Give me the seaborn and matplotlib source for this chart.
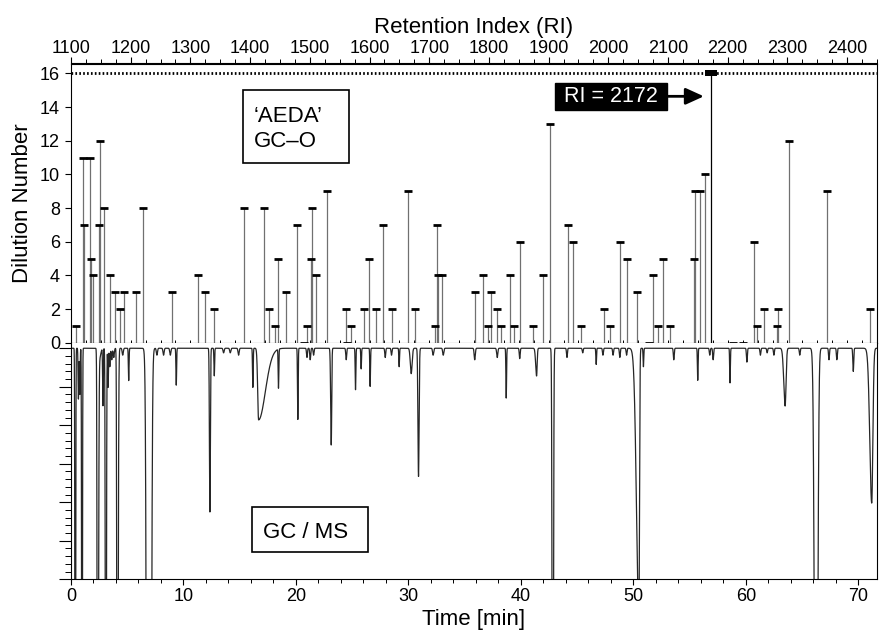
import numpy as np
import pandas as pd
import matplotlib
matplotlib.use("Agg")
import matplotlib.pyplot as plt
import seaborn as sns
from matplotlib.ticker import MultipleLocator, NullFormatter
from matplotlib.patches import Rectangle

# ---------------- GC-O (AEDA) data: retention index and dilution number ----------------
ri = [1108, 1120, 1122, 1131, 1134, 1137, 1147, 1149, 1155, 1165, 1174, 1182, 1189,
      1209, 1221, 1269, 1312, 1325, 1340, 1389, 1423, 1431, 1441, 1446, 1460, 1479,
      1491, 1495, 1502, 1504, 1510, 1529, 1561, 1563, 1569, 1591, 1599, 1611, 1622,
      1638, 1665, 1676, 1710, 1713, 1715, 1721, 1777, 1790, 1798, 1804, 1813, 1820,
      1835, 1842, 1852, 1874, 1891, 1902, 1933, 1941, 1954, 1993, 2002, 2019, 2031,
      2048, 2068, 2075, 2083, 2092, 2103, 2143, 2145, 2153, 2162, 2172, 2209, 2225,
      2244, 2249, 2261, 2283, 2285, 2303, 2367, 2439]
dilution = [1, 11, 7, 11, 5, 4, 7, 12, 8, 4, 3, 2, 3,
            3, 8, 3, 4, 3, 2, 8, 8, 2, 1, 5, 3, 7,
            0, 1, 5, 8, 4, 9, 2, 0, 1, 2, 5, 2, 7,
            2, 9, 2, 1, 7, 4, 4, 3, 4, 1, 3, 2, 1,
            4, 1, 6, 1, 4, 13, 7, 6, 1, 2, 1, 6, 5,
            3, 0, 4, 1, 5, 1, 5, 9, 9, 10, 16, 0, 0,
            6, 1, 2, 1, 2, 12, 9, 2]
highlight_ri = 2172

# ---------------- GC/MS chromatogram peaks (time, relative depth, left/right width) ----------------
peak_time = [0.38, 0.66, 0.78, 0.98, 2.37, 2.55, 2.84, 3.10, 3.30, 3.45, 3.62, 3.80,
             4.12, 4.60, 5.13, 6.93, 7.64, 8.23, 8.83, 9.36, 12.35, 12.74, 13.57,
             14.16, 14.90, 16.17, 16.68, 18.45, 20.17, 20.98, 21.27, 21.57, 23.14,
             24.47, 25.30, 25.80, 26.60, 27.94, 28.50, 29.18, 30.25, 30.90, 32.20,
             33.10, 35.90, 37.90, 38.70, 39.90, 41.40, 42.84, 44.10, 45.50, 46.70,
             47.30, 48.20, 48.80, 49.40, 50.50, 50.90, 53.60, 55.73, 56.80, 57.10,
             58.60, 60.10, 61.30, 61.90, 62.50, 63.50, 64.80, 66.26, 67.40, 68.10,
             69.56, 71.20]
peak_depth = [3.0, 0.22, 0.20, 3.0, 3.0, 0.04, 0.25, 3.0, 0.17, 0.08, 0.05, 0.04,
              3.0, 0.03, 0.14, 10.0, 0.03, 0.03, 0.03, 0.16, 0.71, 0.12, 0.02,
              0.02, 0.03, 0.17, 0.31, 0.17, 0.31, 0.04, 0.05, 0.03, 0.42,
              0.05, 0.18, 0.09, 0.165, 0.04, 0.03, 0.08, 0.11, 0.555, 0.03,
              0.03, 0.05, 0.04, 0.216, 0.045, 0.12, 3.0, 0.04, 0.02, 0.07,
              0.03, 0.03, 0.04, 0.03, 1.15, 0.08, 0.05, 0.14, 0.03, 0.05,
              0.15, 0.06, 0.03, 0.02, 0.03, 0.25, 0.03, 3.0, 0.05, 0.05,
              0.10, 0.67]
peak_wl = [0.03, 0.03, 0.03, 0.03, 0.04, 0.10, 0.03, 0.04, 0.03, 0.04, 0.04, 0.05,
           0.04, 0.05, 0.03, 0.123, 0.05, 0.05, 0.05, 0.03, 0.04, 0.03, 0.05,
           0.05, 0.05, 0.03, 0.08, 0.03, 0.03, 0.04, 0.04, 0.04, 0.05,
           0.04, 0.03, 0.03, 0.03, 0.04, 0.04, 0.03, 0.08, 0.05, 0.05,
           0.05, 0.05, 0.05, 0.03, 0.04, 0.08, 0.05, 0.04, 0.04, 0.03,
           0.04, 0.04, 0.04, 0.04, 0.216, 0.03, 0.04, 0.03, 0.04, 0.04,
           0.03, 0.04, 0.04, 0.04, 0.04, 0.12, 0.04, 0.126, 0.04, 0.04,
           0.04, 0.17]
peak_wr = [0.03, 0.03, 0.03, 0.03, 0.06, 0.10, 0.03, 0.04, 0.03, 0.04, 0.04, 0.05,
           0.06, 0.05, 0.03, 0.123, 0.05, 0.05, 0.05, 0.03, 0.04, 0.03, 0.05,
           0.05, 0.05, 0.03, 0.60, 0.03, 0.03, 0.04, 0.04, 0.04, 0.04,
           0.04, 0.03, 0.03, 0.03, 0.04, 0.04, 0.03, 0.08, 0.05, 0.05,
           0.05, 0.05, 0.05, 0.03, 0.04, 0.05, 0.05, 0.04, 0.04, 0.03,
           0.04, 0.04, 0.04, 0.04, 0.05, 0.03, 0.04, 0.03, 0.04, 0.04,
           0.03, 0.04, 0.04, 0.04, 0.04, 0.08, 0.04, 0.115, 0.04, 0.04,
           0.04, 0.10]

ri_ticks = [1100, 1200, 1300, 1400, 1500, 1600, 1700, 1800, 1900, 2000, 2100, 2200, 2300, 2400]
time_ticks = [0, 10, 20, 30, 40, 50, 60, 70]
dilution_ticks = [0, 2, 4, 6, 8, 10, 12, 14, 16]

# ---------------- style ----------------
sns.set_style("ticks")
plt.rcParams['font.family'] = ['Liberation Sans', 'DejaVu Sans']
plt.rcParams['axes.edgecolor'] = 'black'
plt.rcParams['axes.linewidth'] = 0.8
plt.rcParams['xtick.color'] = 'black'
plt.rcParams['ytick.color'] = 'black'
plt.rcParams['text.color'] = 'black'
plt.rcParams['axes.labelcolor'] = 'black'

TICK_FS = 13
LABEL_FS = 16

W, H = 880, 633
fig = plt.figure(figsize=(W / 100, H / 100), dpi=100)


def frame(l, t, r, b):
    return [l / W, 1 - b / H, (r - l) / W, (b - t) / H]


ax_up = fig.add_axes(frame(71, 63.5, 877, 342.7))
ax_lo = fig.add_axes(frame(71, 342.7, 877, 579.3))

# ---------------- upper panel: AEDA stick plot ----------------
df_o = pd.DataFrame({'RI': ri, 'Dilution': dilution})
is_hl = df_o['RI'] == highlight_ri
stems = df_o[(df_o['Dilution'] > 0) & ~is_hl]
ax_up.vlines(stems['RI'], 0, stems['Dilution'], color='#707070', lw=0.9, zorder=2)
hl = df_o[is_hl]
ax_up.vlines(hl['RI'], 0, hl['Dilution'], color='black', lw=0.9, zorder=3)

ax_up.axhline(dilution_ticks[-1], color='black', lw=2.0, ls=(0, (0.6, 0.8)), zorder=1)

sns.scatterplot(data=df_o[~is_hl], x='RI', y='Dilution', marker='_', s=40,
                linewidth=2.0, color='black', ax=ax_up, zorder=4, clip_on=False,
                legend=False)
box_marker = [(-1, -0.55), (1, -0.55), (1, 0.55), (-1, 0.55)]
sns.scatterplot(data=hl, x='RI', y='Dilution', marker=box_marker, s=63,
                color='black', edgecolor='black', linewidth=0, ax=ax_up,
                zorder=5, clip_on=False, legend=False)

ax_up.set_xlim(1100, 2450)
ax_up.set_ylim(0, 16.59)
ax_up.set_yticks(dilution_ticks)
ax_up.tick_params(axis='y', direction='out', length=4, width=0.8, labelsize=TICK_FS, pad=4)
ax_up.xaxis.set_major_locator(MultipleLocator(100))
ax_up.xaxis.set_minor_locator(MultipleLocator(25))
ax_up.tick_params(axis='x', which='both', direction='in', length=2.5, width=0.7,
                  bottom=True, top=False, labelbottom=False)
ax_up.set_xlabel('')
ax_up.set_ylabel('Dilution Number', fontsize=LABEL_FS, labelpad=5)

sec = ax_up.secondary_xaxis('top')
sec.set_xticks(ri_ticks)
sec.xaxis.set_minor_locator(MultipleLocator(25))
sec.tick_params(which='major', direction='out', length=4, width=0.8, labelsize=TICK_FS, pad=1)
sec.tick_params(which='minor', direction='out', length=3, width=0.7)
sec.set_xlabel('Retention Index (RI)', fontsize=LABEL_FS, labelpad=5)

# annotation boxes
ax_up.add_patch(Rectangle((0.2138, 0.6447), 0.1315, 0.2604, transform=ax_up.transAxes,
                          fill=False, lw=1.2, ec='black', zorder=6))
ax_up.text(0.2267, 0.7915, '\u2018AEDA\u2019', transform=ax_up.transAxes, fontsize=16,
           va='baseline', ha='left')
ax_up.text(0.2267, 0.6998, 'GC\u2013O', transform=ax_up.transAxes, fontsize=16,
           va='baseline', ha='left')

ax_up.annotate(f' RI = {highlight_ri} ', xy=(highlight_ri - 12, 14.64), xytext=(2004, 14.64),
               ha='center', va='center', color='white', fontsize=15.5,
               bbox=dict(boxstyle='square,pad=0.15', fc='black', ec='black'),
               arrowprops=dict(arrowstyle='-|>,head_length=0.55,head_width=0.25',
                               mutation_scale=20, lw=2.0, color='black',
                               shrinkA=0, shrinkB=0))

# ---------------- lower panel: GC/MS chromatogram ----------------
t = np.linspace(0, 71.67, 9000)
sig = np.zeros_like(t)
for c, d, wl, wr in zip(peak_time, peak_depth, peak_wl, peak_wr):
    w = np.where(t < c, wl, wr)
    sig += d * np.exp(-0.5 * ((t - c) / w) ** 2)
df_ms = pd.DataFrame({'Time': t, 'Signal': -sig})
sns.lineplot(data=df_ms, x='Time', y='Signal', ax=ax_lo, color='#262626', lw=0.9,
             estimator=None, sort=False)

ax_lo.set_xlim(0, 71.67)
ax_lo.set_ylim(-1, 0.024)
ax_lo.set_xticks(time_ticks)
ax_lo.xaxis.set_minor_locator(MultipleLocator(2))
ax_lo.tick_params(axis='x', which='major', direction='out', length=4, width=0.8,
                  labelsize=TICK_FS, pad=2)
ax_lo.tick_params(axis='x', which='minor', direction='out', length=3, width=0.7)
ax_lo.yaxis.set_major_locator(MultipleLocator(1 / 6))
ax_lo.yaxis.set_minor_locator(MultipleLocator(1 / 30))
ax_lo.yaxis.set_major_formatter(NullFormatter())
ax_lo.tick_params(axis='y', which='major', direction='out', length=9, width=0.8)
ax_lo.tick_params(axis='y', which='minor', direction='out', length=4, width=0.7)
ax_lo.spines['top'].set_visible(False)
ax_lo.set_xlabel('Time [min]', fontsize=LABEL_FS, labelpad=3)
ax_lo.set_ylabel('')

ax_lo.add_patch(Rectangle((0.2242, 0.1167), 0.1447, 0.1901, transform=ax_lo.transAxes,
                          fill=False, lw=1.2, ec='black', zorder=6))
ax_lo.text(0.2913, 0.1733, 'GC / MS', transform=ax_lo.transAxes, fontsize=16,
           va='baseline', ha='center')

fig.savefig('out.png', dpi=100)
